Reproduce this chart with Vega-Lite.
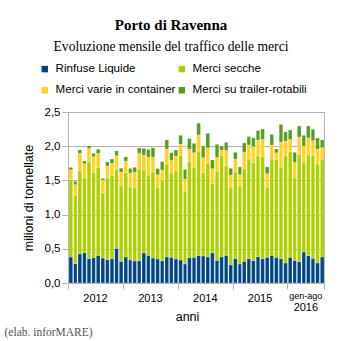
{
  "$schema": "https://vega.github.io/schema/vega-lite/v6.json",
  "width": 256,
  "height": 171,
  "autosize": "none",
  "padding": {"left": 68, "top": 112, "right": 19, "bottom": 58},
  "background": "white",
  "title": {
    "text": "Porto di Ravenna",
    "subtitle": "Evoluzione mensile del traffico delle merci",
    "font": "Liberation Serif",
    "fontSize": 15,
    "fontWeight": "bold",
    "color": "black",
    "subtitleFont": "Liberation Serif",
    "subtitleFontSize": 13.6,
    "subtitleColor": "black",
    "subtitlePadding": 7,
    "anchor": "middle",
    "frame": "group",
    "dx": -25,
    "offset": 9
  },
  "datasets": {
    "anni2012_2015": [
      {"mese": "2012-01-01", "Rinfuse Liquide": 0.380, "Merci secche": 1.135, "Merci varie in container": 0.141, "Merci su trailer-rotabili": 0.034},
      {"mese": "2012-02-01", "Rinfuse Liquide": 0.283, "Merci secche": 0.994, "Merci varie in container": 0.161, "Merci su trailer-rotabili": 0.049},
      {"mese": "2012-03-01", "Rinfuse Liquide": 0.424, "Merci secche": 1.218, "Merci varie in container": 0.253, "Merci su trailer-rotabili": 0.049},
      {"mese": "2012-04-01", "Rinfuse Liquide": 0.443, "Merci secche": 1.092, "Merci varie in container": 0.210, "Merci su trailer-rotabili": 0.039},
      {"mese": "2012-05-01", "Rinfuse Liquide": 0.356, "Merci secche": 1.418, "Merci varie in container": 0.195, "Merci su trailer-rotabili": 0.034},
      {"mese": "2012-06-01", "Rinfuse Liquide": 0.370, "Merci secche": 1.243, "Merci varie in container": 0.234, "Merci su trailer-rotabili": 0.049},
      {"mese": "2012-07-01", "Rinfuse Liquide": 0.404, "Merci secche": 1.282, "Merci varie in container": 0.210, "Merci su trailer-rotabili": 0.058},
      {"mese": "2012-08-01", "Rinfuse Liquide": 0.365, "Merci secche": 0.955, "Merci varie in container": 0.185, "Merci su trailer-rotabili": 0.024},
      {"mese": "2012-09-01", "Rinfuse Liquide": 0.341, "Merci secche": 1.199, "Merci varie in container": 0.171, "Merci su trailer-rotabili": 0.058},
      {"mese": "2012-10-01", "Rinfuse Liquide": 0.356, "Merci secche": 1.213, "Merci varie in container": 0.180, "Merci su trailer-rotabili": 0.063},
      {"mese": "2012-11-01", "Rinfuse Liquide": 0.507, "Merci secche": 1.155, "Merci varie in container": 0.200, "Merci su trailer-rotabili": 0.068},
      {"mese": "2012-12-01", "Rinfuse Liquide": 0.317, "Merci secche": 1.101, "Merci varie in container": 0.205, "Merci su trailer-rotabili": 0.054},
      {"mese": "2013-01-01", "Rinfuse Liquide": 0.380, "Merci secche": 1.233, "Merci varie in container": 0.171, "Merci su trailer-rotabili": 0.058},
      {"mese": "2013-02-01", "Rinfuse Liquide": 0.336, "Merci secche": 1.072, "Merci varie in container": 0.200, "Merci su trailer-rotabili": 0.068},
      {"mese": "2013-03-01", "Rinfuse Liquide": 0.322, "Merci secche": 1.077, "Merci varie in container": 0.219, "Merci su trailer-rotabili": 0.073},
      {"mese": "2013-04-01", "Rinfuse Liquide": 0.327, "Merci secche": 1.345, "Merci varie in container": 0.224, "Merci su trailer-rotabili": 0.078},
      {"mese": "2013-05-01", "Rinfuse Liquide": 0.439, "Merci secche": 1.213, "Merci varie in container": 0.219, "Merci su trailer-rotabili": 0.097},
      {"mese": "2013-06-01", "Rinfuse Liquide": 0.404, "Merci secche": 1.174, "Merci varie in container": 0.263, "Merci su trailer-rotabili": 0.112},
      {"mese": "2013-07-01", "Rinfuse Liquide": 0.365, "Merci secche": 1.257, "Merci varie in container": 0.219, "Merci su trailer-rotabili": 0.136},
      {"mese": "2013-08-01", "Rinfuse Liquide": 0.351, "Merci secche": 1.043, "Merci varie in container": 0.190, "Merci su trailer-rotabili": 0.088},
      {"mese": "2013-09-01", "Rinfuse Liquide": 0.327, "Merci secche": 1.179, "Merci varie in container": 0.146, "Merci su trailer-rotabili": 0.122},
      {"mese": "2013-10-01", "Rinfuse Liquide": 0.380, "Merci secche": 1.365, "Merci varie in container": 0.214, "Merci su trailer-rotabili": 0.132},
      {"mese": "2013-11-01", "Rinfuse Liquide": 0.375, "Merci secche": 1.233, "Merci varie in container": 0.185, "Merci su trailer-rotabili": 0.112},
      {"mese": "2013-12-01", "Rinfuse Liquide": 0.351, "Merci secche": 1.287, "Merci varie in container": 0.219, "Merci su trailer-rotabili": 0.088},
      {"mese": "2014-01-01", "Rinfuse Liquide": 0.336, "Merci secche": 1.530, "Merci varie in container": 0.166, "Merci su trailer-rotabili": 0.127},
      {"mese": "2014-02-01", "Rinfuse Liquide": 0.278, "Merci secche": 1.057, "Merci varie in container": 0.185, "Merci su trailer-rotabili": 0.141},
      {"mese": "2014-03-01", "Rinfuse Liquide": 0.370, "Merci secche": 1.404, "Merci varie in container": 0.180, "Merci su trailer-rotabili": 0.156},
      {"mese": "2014-04-01", "Rinfuse Liquide": 0.375, "Merci secche": 1.311, "Merci varie in container": 0.219, "Merci su trailer-rotabili": 0.136},
      {"mese": "2014-05-01", "Rinfuse Liquide": 0.400, "Merci secche": 1.516, "Merci varie in container": 0.249, "Merci su trailer-rotabili": 0.171},
      {"mese": "2014-06-01", "Rinfuse Liquide": 0.395, "Merci secche": 1.218, "Merci varie in container": 0.219, "Merci su trailer-rotabili": 0.171},
      {"mese": "2014-07-01", "Rinfuse Liquide": 0.380, "Merci secche": 1.365, "Merci varie in container": 0.229, "Merci su trailer-rotabili": 0.214},
      {"mese": "2014-08-01", "Rinfuse Liquide": 0.443, "Merci secche": 1.009, "Merci varie in container": 0.219, "Merci su trailer-rotabili": 0.127},
      {"mese": "2014-09-01", "Rinfuse Liquide": 0.331, "Merci secche": 1.296, "Merci varie in container": 0.210, "Merci su trailer-rotabili": 0.190},
      {"mese": "2014-10-01", "Rinfuse Liquide": 0.380, "Merci secche": 1.481, "Merci varie in container": 0.083, "Merci su trailer-rotabili": 0.054},
      {"mese": "2014-11-01", "Rinfuse Liquide": 0.404, "Merci secche": 1.311, "Merci varie in container": 0.224, "Merci su trailer-rotabili": 0.117},
      {"mese": "2014-12-01", "Rinfuse Liquide": 0.263, "Merci secche": 1.126, "Merci varie in container": 0.190, "Merci su trailer-rotabili": 0.097},
      {"mese": "2015-01-01", "Rinfuse Liquide": 0.356, "Merci secche": 1.272, "Merci varie in container": 0.185, "Merci su trailer-rotabili": 0.097},
      {"mese": "2015-02-01", "Rinfuse Liquide": 0.278, "Merci secche": 1.145, "Merci varie in container": 0.161, "Merci su trailer-rotabili": 0.112},
      {"mese": "2015-03-01", "Rinfuse Liquide": 0.317, "Merci secche": 1.350, "Merci varie in container": 0.244, "Merci su trailer-rotabili": 0.136},
      {"mese": "2015-04-01", "Rinfuse Liquide": 0.356, "Merci secche": 1.462, "Merci varie in container": 0.200, "Merci su trailer-rotabili": 0.122},
      {"mese": "2015-05-01", "Rinfuse Liquide": 0.327, "Merci secche": 1.433, "Merci varie in container": 0.234, "Merci su trailer-rotabili": 0.127},
      {"mese": "2015-06-01", "Rinfuse Liquide": 0.385, "Merci secche": 1.477, "Merci varie in container": 0.229, "Merci su trailer-rotabili": 0.136},
      {"mese": "2015-07-01", "Rinfuse Liquide": 0.356, "Merci secche": 1.491, "Merci varie in container": 0.253, "Merci su trailer-rotabili": 0.151},
      {"mese": "2015-08-01", "Rinfuse Liquide": 0.375, "Merci secche": 1.019, "Merci varie in container": 0.205, "Merci su trailer-rotabili": 0.097},
      {"mese": "2015-09-01", "Rinfuse Liquide": 0.404, "Merci secche": 1.408, "Merci varie in container": 0.205, "Merci su trailer-rotabili": 0.156},
      {"mese": "2015-10-01", "Rinfuse Liquide": 0.375, "Merci secche": 1.433, "Merci varie in container": 0.097, "Merci su trailer-rotabili": 0.054},
      {"mese": "2015-11-01", "Rinfuse Liquide": 0.356, "Merci secche": 1.340, "Merci varie in container": 0.365, "Merci su trailer-rotabili": 0.258},
      {"mese": "2015-12-01", "Rinfuse Liquide": 0.292, "Merci secche": 1.569, "Merci varie in container": 0.214, "Merci su trailer-rotabili": 0.132}
    ],
    "gen_ago_2016": [
      {"mese": "2016-01-01", "Rinfuse Liquide": 0.375, "Merci secche": 1.545, "Merci varie in container": 0.180, "Merci su trailer-rotabili": 0.136},
      {"mese": "2016-02-01", "Rinfuse Liquide": 0.331, "Merci secche": 1.204, "Merci varie in container": 0.229, "Merci su trailer-rotabili": 0.146},
      {"mese": "2016-03-01", "Rinfuse Liquide": 0.312, "Merci secche": 1.569, "Merci varie in container": 0.253, "Merci su trailer-rotabili": 0.161},
      {"mese": "2016-04-01", "Rinfuse Liquide": 0.453, "Merci secche": 1.311, "Merci varie in container": 0.239, "Merci su trailer-rotabili": 0.156},
      {"mese": "2016-05-01", "Rinfuse Liquide": 0.400, "Merci secche": 1.472, "Merci varie in container": 0.249, "Merci su trailer-rotabili": 0.175},
      {"mese": "2016-06-01", "Rinfuse Liquide": 0.361, "Merci secche": 1.501, "Merci varie in container": 0.219, "Merci su trailer-rotabili": 0.166},
      {"mese": "2016-07-01", "Rinfuse Liquide": 0.292, "Merci secche": 1.447, "Merci varie in container": 0.219, "Merci su trailer-rotabili": 0.161},
      {"mese": "2016-08-01", "Rinfuse Liquide": 0.380, "Merci secche": 1.418, "Merci varie in container": 0.180, "Merci su trailer-rotabili": 0.112}
    ]
  },
  "encoding": {
    "y": {
      "field": "milioni",
      "type": "quantitative",
      "stack": "zero",
      "scale": {"domain": [0, 2.5], "nice": false},
      "axis": {
        "values": [0, 0.5, 1, 1.5, 2, 2.5],
        "labelExpr": "replace(format(datum.value, '.1f'), '.', ',')",
        "title": "milioni di tonnellate",
        "titleFont": "Liberation Sans",
        "titleFontSize": 12.5,
        "titleFontWeight": "normal",
        "titleColor": "black",
        "titleAngle": 270,
        "titleX": -40,
        "titleY": 85.5,
        "titleAlign": "center",
        "titleBaseline": "middle",
        "labelPadding": 2,
        "labelFontSize": 11.5,
        "tickSize": 6
      }
    },
    "color": {
      "field": "tipo",
      "type": "nominal",
      "sort": ["Rinfuse Liquide", "Merci secche", "Merci varie in container", "Merci su trailer-rotabili"],
      "scale": {
        "domain": ["Rinfuse Liquide", "Merci secche", "Merci varie in container", "Merci su trailer-rotabili"],
        "range": ["#004586", "#aecf00", "#ffd320", "#579d1c"]
      },
      "legend": {
        "title": null,
        "orient": "none",
        "legendX": -29,
        "legendY": -49,
        "columns": 2,
        "direction": "horizontal",
        "symbolType": "square",
        "symbolSize": 42,
        "symbolStrokeWidth": 0,
        "labelFont": "Liberation Sans",
        "labelFontSize": 11.6,
        "labelColor": "black",
        "labelOffset": 5,
        "columnPadding": 0,
        "rowPadding": 8.5,
        "padding": 0
      }
    },
    "order": {"field": "ordine", "type": "quantitative", "sort": "ascending"}
  },
  "layer": [
    {
      "data": {"name": "anni2012_2015"},
      "transform": [
        {"fold": ["Rinfuse Liquide", "Merci secche", "Merci varie in container", "Merci su trailer-rotabili"], "as": ["tipo", "milioni"]},
        {"window": [{"op": "row_number", "as": "ordine"}], "groupby": ["mese"]}
      ],
      "mark": {"type": "bar", "stroke": "white", "strokeOpacity": 0.25, "strokeWidth": 0.8},
      "encoding": {
        "x": {
          "field": "mese",
          "type": "temporal",
          "timeUnit": "utcyearmonth",
          "scale": {"domain": [{"year": 2012, "month": 1, "date": 1, "utc": true}, {"year": 2016, "month": 9, "date": 1, "utc": true}], "nice": false},
          "axis": {
            "orient": "bottom",
            "values": [
              {"year": 2012, "month": 1, "date": 1, "utc": true},
              {"year": 2013, "month": 1, "date": 1, "utc": true},
              {"year": 2014, "month": 1, "date": 1, "utc": true},
              {"year": 2015, "month": 1, "date": 1, "utc": true},
              {"year": 2016, "month": 1, "date": 1, "utc": true},
              {"year": 2016, "month": 9, "date": 1, "utc": true}
            ],
            "labelExpr": "utcmonth(datum.value) == 8 ? '' : utcFormat(datum.value, '%Y')",
            "labelOffset": {"condition": {"test": "utcyear(datum.value) == 2016", "value": 18}, "value": 27},
            "labelPadding": {"condition": {"test": "utcyear(datum.value) == 2016", "value": 12}, "value": 3},
            "labelAlign": "center",
            "labelFontSize": 11,
            "tickSize": 6,
            "grid": false,
            "title": "anni",
            "titleFont": "Liberation Sans",
            "titleFontSize": 12.5,
            "titleFontWeight": "normal",
            "titleColor": "black",
            "titleX": 119,
            "titleY": 33,
            "titleAlign": "center",
            "titleBaseline": "middle"
          }
        }
      }
    },
    {
      "data": {"name": "gen_ago_2016"},
      "transform": [
        {"fold": ["Rinfuse Liquide", "Merci secche", "Merci varie in container", "Merci su trailer-rotabili"], "as": ["tipo", "milioni"]},
        {"window": [{"op": "row_number", "as": "ordine"}], "groupby": ["mese"]}
      ],
      "mark": {"type": "bar", "stroke": "white", "strokeOpacity": 0.25, "strokeWidth": 0.8},
      "encoding": {
        "x": {
          "field": "mese",
          "type": "temporal",
          "timeUnit": "utcyearmonth",
          "scale": {"domain": [{"year": 2012, "month": 1, "date": 1, "utc": true}, {"year": 2016, "month": 9, "date": 1, "utc": true}], "nice": false},
          "axis": {
            "orient": "bottom",
            "values": [{"year": 2016, "month": 1, "date": 1, "utc": true}],
            "labelExpr": "'gen-ago'",
            "labelOffset": 18,
            "labelPadding": 8,
            "labelAlign": "center",
            "labelFontSize": 9,
            "ticks": false,
            "domain": false,
            "grid": false,
            "title": "(elab. inforMARE)",
            "titleFont": "Liberation Serif",
            "titleFontSize": 11.5,
            "titleFontWeight": "normal",
            "titleColor": "#555555",
            "titleX": -64,
            "titleY": 49,
            "titleAlign": "left",
            "titleBaseline": "middle"
          }
        }
      }
    }
  ],
  "resolve": {"axis": {"x": "independent"}},
  "config": {
    "view": {"stroke": "#b3b3b3", "strokeWidth": 1},
    "axis": {
      "domainColor": "#b3b3b3",
      "tickColor": "#b3b3b3",
      "gridColor": "#b3b3b3",
      "labelFont": "Liberation Sans",
      "labelFontSize": 11,
      "labelColor": "black"
    },
    "axisY": {"grid": true, "domain": true}
  }
}
